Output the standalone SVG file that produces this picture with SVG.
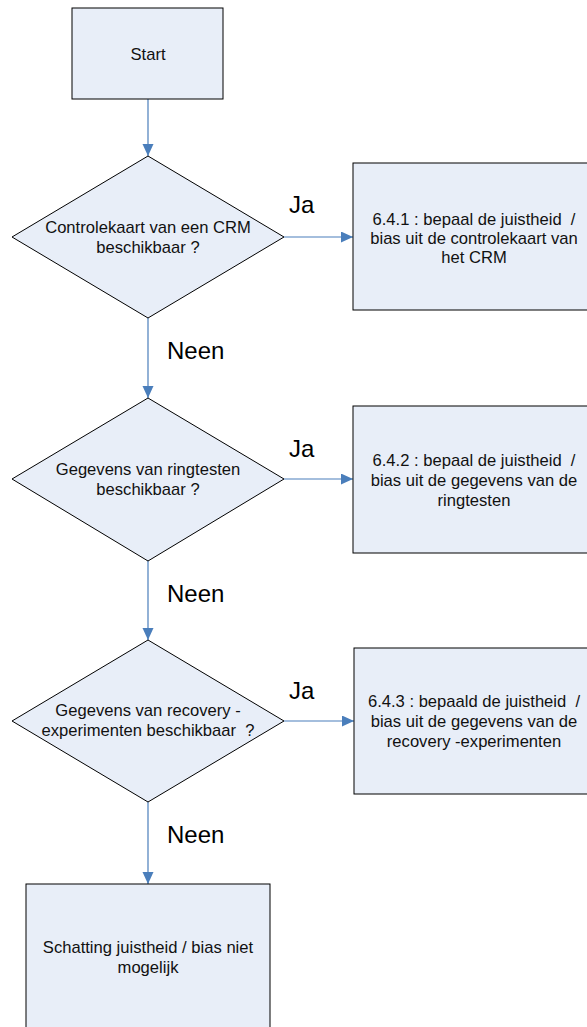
<svg xmlns="http://www.w3.org/2000/svg" width="587" height="1027" viewBox="0 0 587 1027">
<defs>
<style>
.node{fill:#E8EEF8;stroke:#000;stroke-width:1}
.t{font-family:"Liberation Sans",Arial,sans-serif;font-size:16.6px;fill:#111;text-anchor:middle}
.lbl{font-family:"Liberation Sans",Arial,sans-serif;font-size:24px;fill:#000}
.c{stroke:#4A7EBB;stroke-width:1.2;fill:none;marker-end:url(#ah)}
</style>
<marker id="ah" markerUnits="userSpaceOnUse" markerWidth="12" markerHeight="12" refX="12" refY="5.5" orient="auto">
<path d="M0,0 L12,5.5 L0,11 z" fill="#4A7EBB"/>
</marker>
</defs>
<rect width="587" height="1027" fill="#fff"/>
<g id="connectors">
<line class="c" x1="148" y1="99" x2="148" y2="156"/>
<line class="c" x1="284" y1="237" x2="353" y2="237"/>
<line class="c" x1="148" y1="318" x2="148" y2="398"/>
<line class="c" x1="284" y1="479" x2="353" y2="479"/>
<line class="c" x1="148" y1="561" x2="148" y2="640"/>
<line class="c" x1="284" y1="721" x2="354" y2="721"/>
<line class="c" x1="148" y1="802" x2="148" y2="884"/>
<text class="lbl" x="289" y="213">Ja</text>
<text class="lbl" x="289" y="457">Ja</text>
<text class="lbl" x="289" y="699">Ja</text>
<text class="lbl" x="167" y="359">Neen</text>
<text class="lbl" x="167" y="602">Neen</text>
<text class="lbl" x="167" y="843">Neen</text>
</g>
<g id="start">
<rect class="node" x="72" y="8" width="151" height="91"/>
<text class="t" x="148" y="60">Start</text>
</g>
<g id="d1">
<polygon class="node" points="148,156 284,237 148,318 12,237"/>
<text class="t" x="148" y="233">Controlekaart van een CRM</text>
<text class="t" x="148" y="253">beschikbaar ?</text>
</g>
<g id="b1">
<rect class="node" x="353" y="163" width="240" height="147"/>
<text class="t" x="474" y="225" xml:space="preserve">6.4.1 : bepaal de juistheid  /</text>
<text class="t" x="474" y="244">bias uit de controlekaart van</text>
<text class="t" x="474" y="263">het CRM</text>
</g>
<g id="d2">
<polygon class="node" points="148,398 284,479 148,561 12,479"/>
<text class="t" x="148" y="475">Gegevens van ringtesten</text>
<text class="t" x="148" y="495">beschikbaar ?</text>
</g>
<g id="b2">
<rect class="node" x="353" y="406" width="240" height="147"/>
<text class="t" x="474" y="466" xml:space="preserve">6.4.2 : bepaal de juistheid  /</text>
<text class="t" x="474" y="486">bias uit de gegevens van de</text>
<text class="t" x="474" y="506">ringtesten</text>
</g>
<g id="d3">
<polygon class="node" points="148,640 284,721 148,802 12,721"/>
<text class="t" x="148" y="716">Gegevens van recovery -</text>
<text class="t" x="148" y="736" xml:space="preserve">experimenten beschikbaar  ?</text>
</g>
<g id="b3">
<rect class="node" x="354" y="648" width="240" height="146"/>
<text class="t" x="474" y="707" xml:space="preserve">6.4.3 : bepaald de juistheid  /</text>
<text class="t" x="474" y="727">bias uit de gegevens van de</text>
<text class="t" x="474" y="747">recovery -experimenten</text>
</g>
<g id="b4">
<rect class="node" x="26" y="884" width="244" height="150"/>
<text class="t" x="148" y="953">Schatting juistheid / bias niet</text>
<text class="t" x="148" y="973">mogelijk</text>
</g>
</svg>
